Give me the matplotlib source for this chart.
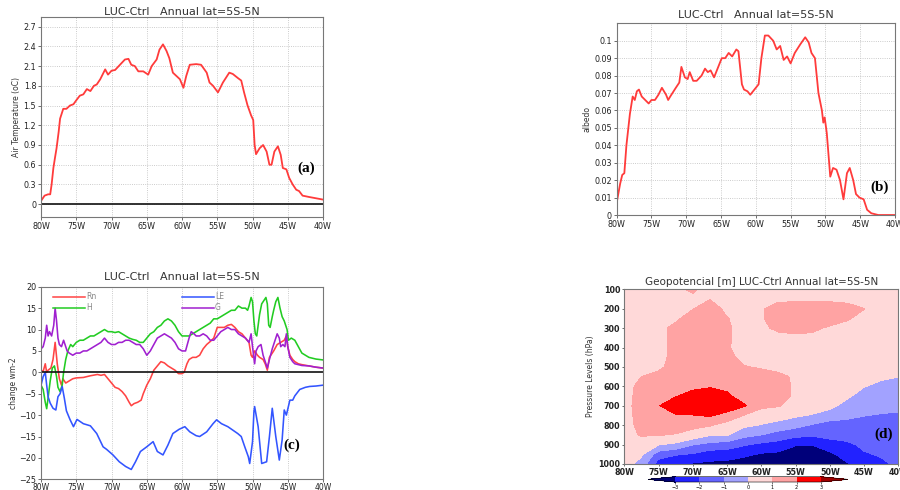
import numpy as np
import matplotlib.pyplot as plt
from matplotlib.colors import ListedColormap

# (a) air temperature change, (lon W, degC)
air_pts = [(80, 0.05), (79.5, 0.13), (79, 0.15), (78.7, 0.15), (78.5, 0.3), (78.25, 0.55),
           (78, 0.72), (77.8, 0.85), (77.5, 1.1), (77.3, 1.3), (76.85, 1.45), (76.4, 1.45),
           (75.9, 1.5), (75.4, 1.52), (75, 1.58), (74.5, 1.65), (74, 1.67), (73.5, 1.75),
           (73, 1.72), (72.5, 1.8), (72.1, 1.82), (71.6, 1.9), (70.9, 2.05), (70.5, 1.97),
           (70, 2.03), (69.5, 2.04), (68.8, 2.12), (68.1, 2.2), (67.6, 2.21), (67.2, 2.12),
           (66.7, 2.1), (66.2, 2.02), (65.5, 2.02), (64.8, 1.97), (64.3, 2.1), (63.6, 2.2),
           (63.2, 2.35), (62.7, 2.43), (62.2, 2.33), (61.8, 2.22), (61.3, 2.0), (60.8, 1.95),
           (60.3, 1.9), (59.8, 1.77), (59.4, 1.95), (58.9, 2.12), (58, 2.13), (57.3, 2.12),
           (56.5, 2.0), (56.1, 1.85), (55.6, 1.8), (54.9, 1.7), (54.2, 1.85), (53.3, 2.0),
           (52.8, 1.98), (52.1, 1.92), (51.6, 1.88), (51.2, 1.7), (50.7, 1.5), (50.2, 1.35),
           (49.9, 1.28), (49.7, 0.9), (49.5, 0.76), (49, 0.85), (48.5, 0.9), (48, 0.8),
           (47.6, 0.6), (47.3, 0.6), (46.9, 0.8), (46.4, 0.88), (46, 0.75), (45.7, 0.55),
           (45.2, 0.53), (44.8, 0.4), (44.3, 0.3), (43.8, 0.22), (43.4, 0.2), (42.9, 0.13),
           (42, 0.11), (41, 0.09), (40, 0.07)]

# (b) albedo change
alb_pts = [(80, 0.007), (79.5, 0.018), (79.2, 0.023), (78.9, 0.024), (78.6, 0.04), (78.1, 0.058),
           (77.7, 0.068), (77.4, 0.066), (77.1, 0.071), (76.8, 0.072), (76.4, 0.068), (75.9, 0.066),
           (75.4, 0.064), (75, 0.066), (74.5, 0.066), (74, 0.069), (73.5, 0.073), (72.9, 0.069),
           (72.6, 0.066), (72.3, 0.068), (71.5, 0.073), (71, 0.076), (70.7, 0.085), (70.2, 0.079),
           (69.8, 0.078), (69.5, 0.082), (69, 0.077), (68.5, 0.077), (67.8, 0.08), (67.3, 0.084),
           (66.9, 0.082), (66.5, 0.083), (66, 0.079), (65.4, 0.085), (64.9, 0.09), (64.4, 0.09),
           (63.9, 0.093), (63.4, 0.091), (62.8, 0.095), (62.5, 0.094), (62, 0.075), (61.7, 0.072),
           (61.2, 0.071), (60.8, 0.069), (60.4, 0.071), (60, 0.073), (59.6, 0.075), (59.2, 0.09),
           (58.7, 0.103), (58.2, 0.103), (57.5, 0.1), (57, 0.095), (56.5, 0.097), (56, 0.089),
           (55.5, 0.091), (55, 0.087), (54.4, 0.093), (53.6, 0.098), (52.9, 0.102), (52.4, 0.099),
           (52, 0.093), (51.5, 0.09), (51, 0.07), (50.5, 0.06), (50.3, 0.053), (50.1, 0.056),
           (49.8, 0.047), (49.3, 0.022), (48.9, 0.027), (48.4, 0.026), (47.9, 0.02), (47.4, 0.009),
           (46.9, 0.024), (46.5, 0.027), (46, 0.02), (45.6, 0.012), (45.1, 0.01), (44.5, 0.009),
           (44, 0.003), (43.4, 0.001), (42.4, 0.0), (40, 0.0)]

# (c) energy balance terms, W m-2
rn_pts = [(80, 0.5), (79.7, 0.2), (79.4, 2.0), (79.2, 0.0), (79.0, 0.5), (78.6, 1.0), (78.3, 3.0),
          (78.0, 7.0), (77.7, 2.0), (77.4, -1.5), (77.1, -3.0), (76.9, -1.5), (76.5, -2.5),
          (76.0, -2.0), (75.5, -1.5), (75.0, -1.3), (74.0, -1.2), (73.0, -0.8), (72.0, -0.5),
          (71.5, -0.7), (71.0, -0.5), (70.5, -1.5), (70.0, -2.5), (69.5, -3.5), (69.0, -3.8),
          (68.5, -4.5), (68.0, -5.5), (67.5, -7.0), (67.2, -7.8), (66.8, -7.3), (66.3, -7.0),
          (65.8, -6.5), (65.5, -5.0), (65.0, -3.0), (64.5, -1.5), (64.0, 0.5), (63.5, 1.5),
          (63.0, 2.5), (62.5, 2.2), (62.0, 1.5), (61.5, 1.0), (61.0, 0.5), (60.5, -0.3),
          (60.0, -0.3), (59.7, 0.0), (59.3, 2.0), (59.0, 3.0), (58.5, 3.5), (58.0, 3.5),
          (57.5, 4.0), (57.0, 5.5), (56.5, 6.5), (56.0, 7.2), (55.5, 8.0), (55.0, 10.5),
          (54.5, 10.5), (54.0, 10.5), (53.5, 11.0), (53.0, 11.2), (52.5, 10.5), (52.0, 9.5),
          (51.5, 9.0), (51.0, 8.0), (50.5, 7.0), (50.2, 4.0), (50.0, 3.5), (49.7, 5.0),
          (49.5, 4.5), (49.3, 4.0), (49.0, 3.5), (48.5, 3.0), (48.2, 2.0), (47.9, 0.5),
          (47.6, 3.5), (47.0, 5.0), (46.5, 6.5), (46.0, 7.0), (45.5, 7.5), (45.2, 8.5),
          (45.0, 6.0), (44.7, 4.0), (44.3, 3.0), (44.0, 2.5), (43.5, 2.0), (43.0, 1.8),
          (42.0, 1.5), (41.0, 1.2), (40.0, 1.0)]

h_pts = [(80, -3), (79.7, -4), (79.4, -7), (79.2, -8.5), (79.0, -6), (78.7, -2), (78.4, 1),
         (78.1, 1.5), (77.8, -1), (77.6, -3.5), (77.3, -4.5), (77.0, -3), (76.8, 0), (76.5, 3),
         (76.2, 5), (75.8, 6.5), (75.5, 6), (75.0, 7), (74.5, 7.5), (74.0, 7.5), (73.5, 8),
         (73.0, 8.5), (72.5, 8.5), (72.0, 9), (71.5, 9.5), (71.0, 10), (70.5, 9.5), (70.0, 9.5),
         (69.5, 9.3), (69.0, 9.5), (68.5, 9), (68.0, 8.5), (67.5, 8), (67.0, 7.7), (66.5, 7.5),
         (66.0, 7), (65.5, 7), (65.0, 8), (64.5, 9), (64.0, 9.5), (63.5, 10.5), (63.0, 11),
         (62.5, 12), (62.0, 12.5), (61.5, 12), (61.0, 11), (60.5, 9.5), (60.0, 8.5), (59.5, 8.5),
         (59.0, 8.5), (58.5, 9), (58.0, 9.5), (57.5, 10), (57.0, 10.5), (56.5, 11), (56.0, 11.5),
         (55.5, 12.5), (55.0, 12.5), (54.5, 13), (54.0, 13.5), (53.5, 14), (53.0, 14.5),
         (52.5, 14.5), (52.0, 15.5), (51.5, 15), (51.0, 15), (50.7, 14.5), (50.5, 15.5),
         (50.2, 17.5), (50.0, 16.5), (49.8, 12), (49.6, 9), (49.4, 8.5), (49.2, 11), (49.0, 13.5),
         (48.7, 16), (48.3, 17), (48.1, 17.5), (47.9, 16), (47.7, 11), (47.5, 10.5), (47.2, 13),
         (47.0, 14.5), (46.7, 16.5), (46.4, 17.5), (46.1, 15), (45.8, 13), (45.5, 12), (45.3, 11),
         (45.1, 10), (44.9, 7.5), (44.5, 8), (44.0, 7.5), (43.5, 6), (43.0, 4.5), (42.5, 4),
         (42.0, 3.5), (41.0, 3.1), (40.0, 2.9)]

le_pts = [(80, -3), (79.7, -1), (79.4, 0), (79.2, -3), (79.0, -5.7), (78.7, -7.2), (78.3, -8.4),
          (77.9, -8.8), (77.6, -5.7), (77.3, -5), (77.0, -3.3), (76.7, -6), (76.4, -9),
          (75.9, -11), (75.4, -12.7), (74.9, -11), (74.0, -12), (73.0, -12.5), (72.1, -14.3),
          (71.2, -17.4), (70.7, -18), (69.8, -19.3), (68.9, -20.9), (68.0, -22), (67.2, -22.7),
          (66.6, -20.9), (65.9, -18.5), (65.0, -17.4), (64.1, -16.2), (63.5, -18.5), (62.7, -19.3),
          (62.0, -17), (61.3, -14.3), (60.4, -13.3), (59.6, -12.7), (58.9, -13.9), (58.0, -14.8),
          (57.5, -15), (56.5, -13.9), (55.6, -12), (55.1, -11.1), (54.4, -12), (53.5, -12.7),
          (52.8, -13.5), (52.1, -14.3), (51.6, -15), (51.1, -17.4), (50.6, -19.7), (50.4, -21.3),
          (50.0, -16.2), (49.8, -9.2), (49.7, -8), (49.2, -12.7), (48.7, -21.3), (48.0, -20.9),
          (47.6, -15), (47.2, -8.4), (46.7, -15), (46.2, -20.5), (45.8, -15.8), (45.5, -8.8),
          (45.2, -10), (44.7, -6.5), (44.3, -6.5), (44.0, -5.5), (43.3, -4), (42.5, -3.5),
          (41.9, -3.3), (41.0, -3.2), (40.0, -3.0)]

g_pts = [(80, 5.5), (79.7, 6), (79.4, 8), (79.2, 11), (79.0, 8.5), (78.8, 9.5), (78.5, 8.5),
         (78.2, 11), (78.0, 15), (77.8, 12), (77.6, 8), (77.4, 6.5), (77.1, 6), (76.8, 7.5),
         (76.6, 6.5), (76.3, 5), (76.0, 4.5), (75.5, 4), (75.0, 4.5), (74.5, 4.5), (74.0, 5),
         (73.5, 5), (73.0, 5.5), (72.5, 6), (72.0, 6.5), (71.5, 7), (71.0, 8), (70.5, 7),
         (70.0, 6.5), (69.5, 6.5), (69.0, 7), (68.5, 7), (68.0, 7.5), (67.5, 7.5), (67.0, 7),
         (66.5, 6.5), (66.0, 6.5), (65.5, 5.5), (65.0, 4), (64.5, 5), (64.0, 6.5), (63.5, 8),
         (63.0, 8.5), (62.5, 9), (62.0, 8.5), (61.5, 8), (61.0, 7), (60.5, 5.5), (60.0, 5),
         (59.5, 5), (59.0, 8), (58.7, 9.5), (58.3, 9), (58.0, 8.5), (57.5, 8.5), (57.0, 9),
         (56.5, 8.5), (56.0, 7.5), (55.5, 7.5), (55.0, 8.5), (54.5, 9.5), (54.0, 10), (53.5, 10.5),
         (53.0, 10), (52.5, 10), (52.0, 9), (51.5, 8.5), (51.0, 8), (50.5, 7), (50.2, 9),
         (50.0, 6), (49.7, 2), (49.5, 5), (49.2, 6), (48.8, 6.5), (48.5, 4), (48.2, 2.5),
         (47.9, 1), (47.6, 3), (47.2, 5.5), (46.8, 7.5), (46.5, 9), (46.2, 8), (46.0, 6),
         (45.7, 6.5), (45.4, 6), (45.2, 9), (45.0, 6), (44.7, 3.5), (44.3, 2.5), (44.0, 2),
         (43.5, 1.8), (43.0, 1.6), (42.0, 1.5), (41.0, 1.2), (40.0, 1.0)]

# (d) geopotential height change [m], rows = pressure levels, cols = longitude (W)
geo_lon = [80, 77.5, 75, 72.5, 70, 67.5, 65, 62.5, 60, 57.5, 55, 52.5, 50, 47.5, 45, 42.5, 40]
geo_lev = [100, 150, 200, 250, 300, 350, 400, 450, 500, 550, 600, 650, 700, 750, 800, 850, 900, 950, 1000]
geo_z = [
    [0.5, 0.5, 0.5, 0.8, 1.15, 0.5, 0.5, 0.5, 0.5, 0.5, 0.5, 0.5, 0.5, 0.5, 0.5, 0.5, 0.5],
    [0.5, 0.5, 0.5, 0.5, 0.8, 0.95, 0.6, 0.5, 0.5, 0.8, 0.8, 0.8, 0.8, 0.7, 0.5, 0.5, 0.5],
    [0.5, 0.5, 0.5, 0.6, 0.95, 1.6, 0.7, 0.55, 0.9, 1.4, 1.5, 1.5, 1.5, 1.4, 1.02, 0.5, 0.5],
    [0.5, 0.5, 0.6, 0.8, 1.5, 1.6, 1.05, 0.6, 0.9, 1.5, 1.6, 1.6, 1.5, 1.1, 0.7, 0.5, 0.5],
    [0.5, 0.5, 0.7, 1.3, 1.6, 1.6, 1.15, 0.6, 0.8, 1.2, 1.3, 1.2, 0.85, 0.7, 0.6, 0.5, 0.5],
    [0.5, 0.5, 0.7, 1.3, 1.6, 1.6, 1.15, 0.6, 0.6, 0.7, 0.8, 0.75, 0.6, 0.55, 0.5, 0.5, 0.5],
    [0.5, 0.5, 0.7, 1.3, 1.6, 1.6, 1.1, 0.6, 0.55, 0.5, 0.5, 0.5, 0.5, 0.5, 0.5, 0.5, 0.5],
    [0.5, 0.5, 0.7, 1.3, 1.6, 1.6, 1.3, 0.7, 0.6, 0.5, 0.5, 0.5, 0.5, 0.5, 0.5, 0.5, 0.5],
    [0.5, 0.6, 0.8, 1.4, 1.6, 1.6, 1.6, 1.05, 0.9, 0.6, 0.55, 0.5, 0.5, 0.5, 0.5, 0.5, 0.3],
    [0.5, 1.0, 1.3, 1.5, 1.7, 1.7, 1.6, 1.5, 1.4, 1.3, 0.8, 0.55, 0.5, 0.5, 0.4, 0.2, 0.02],
    [0.6, 1.3, 1.5, 1.7, 1.8, 1.9, 1.8, 1.55, 1.5, 1.4, 0.85, 0.55, 0.5, 0.5, 0.05, -0.3, -0.4],
    [0.6, 1.4, 1.7, 1.95, 2.3, 2.6, 2.15, 1.6, 1.5, 1.4, 0.85, 0.55, 0.55, 0.2, -0.5, -0.6, -0.6],
    [0.6, 1.5, 1.95, 2.6, 2.8, 2.9, 2.5, 2.1, 1.2, 1.05, 0.7, 0.6, 0.3, -0.4, -0.7, -0.8, -0.8],
    [0.6, 1.4, 1.6, 1.9, 1.95, 2.1, 1.7, 0.95, 0.5, 0.5, 0.15, -0.1, -0.5, -0.8, -0.98, -1.05, -1.1],
    [0.6, 1.3, 1.4, 1.4, 1.2, 1.1, 0.6, 0.2, -0.05, -0.4, -0.7, -1.1, -1.4, -1.3, -1.3, -1.3, -1.3],
    [0.6, 1.1, 1.05, 0.95, 0.7, 0.1, 0.1, -0.7, -1.0, -1.4, -1.7, -1.85, -1.7, -1.6, -1.5, -1.5, -1.4],
    [0.5, 0.4, 0.05, -0.2, -0.95, -1.3, -1.5, -1.9, -2.2, -2.4, -2.9, -2.95, -2.4, -2.2, -1.8, -1.7, -1.5],
    [0.4, 0.15, -1.5, -1.9, -2.1, -2.5, -2.5, -2.8, -3.1, -3.2, -3.7, -3.8, -3.2, -2.6, -2.1, -1.9, -1.6],
    [0.45, -0.4, -2.5, -2.9, -3.1, -3.2, -3.3, -3.5, -3.6, -3.7, -3.9, -4.0, -3.8, -3.1, -2.5, -2.2, -1.8],
]
geo_levels = [-3, -2, -1, 0, 1, 2, 3]

lon_ticks = [80, 75, 70, 65, 60, 55, 50, 45, 40]
title = 'LUC-Ctrl   Annual lat=5S-5N'


def style(ax, bold=False):
    for s in ax.spines.values():
        s.set_color('#777777')
        s.set_linewidth(0.8)
    ax.tick_params(labelsize=5.8, length=2, width=0.6, color='#555555',
                   labelcolor='#222222', pad=1.5)
    ax.set_xlim(80, 40)
    ax.set_xticks(lon_ticks)
    ax.set_xticklabels([f'{t}W' for t in lon_ticks])
    if bold:
        for lab in ax.get_xticklabels() + ax.get_yticklabels():
            lab.set_fontweight('bold')


def panel_label(ax, txt, x, y):
    ax.text(x, y, txt, transform=ax.transAxes, ha='center', va='center',
            fontsize=11, fontweight='bold', family='Liberation Serif')


fig = plt.figure(figsize=(9, 4.9), dpi=100)
ax_a = fig.add_axes([0.0456, 0.5578, 0.3133, 0.408])
ax_b = fig.add_axes([0.6852, 0.5612, 0.3092, 0.3912])
ax_c = fig.add_axes([0.0456, 0.0218, 0.3133, 0.393])
ax_d = fig.add_axes([0.6937, 0.0531, 0.3044, 0.3565])
cax = fig.add_axes([0.72, 0.0163, 0.2222, 0.0108])

# (a)
lon, val = zip(*air_pts)
ax_a.plot(lon, val, color='#ff3b3b', lw=1.3)
ax_a.axhline(0, color='#222222', lw=1.3)
style(ax_a)
ax_a.set_ylim(-0.19, 2.85)
ax_a.set_yticks(np.arange(0, 2.71, 0.3))
ax_a.set_yticklabels(['0', '0.3', '0.6', '0.9', '1.2', '1.5', '1.8', '2.1', '2.4', '2.7'])
ax_a.grid(True, linestyle=':', color='#bbbbbb', lw=0.6)
ax_a.set_ylabel('Air Temperature (oC)', fontsize=5.5, color='#333333', labelpad=2)
ax_a.set_title(title, fontsize=8, color='#333333', pad=1.5)
panel_label(ax_a, '(a)', 0.94, 0.243)

# (b)
lon, val = zip(*alb_pts)
ax_b.plot(lon, val, color='#ff3b3b', lw=1.3)
style(ax_b)
ax_b.set_ylim(0, 0.11)
ax_b.set_yticks(np.arange(0, 0.101, 0.01))
ax_b.set_yticklabels(['0'] + [f'{v:.2f}'.rstrip('0') for v in np.arange(0.01, 0.101, 0.01)])
ax_b.grid(True, linestyle=':', color='#bbbbbb', lw=0.6)
ax_b.set_ylabel('albedo', fontsize=5.5, color='#333333', labelpad=2)
ax_b.set_title(title, fontsize=8, color='#333333', pad=3.5)
panel_label(ax_b, '(b)', 0.946, 0.146)

# (c)
series = [('Rn', rn_pts, '#ff4444'), ('H', h_pts, '#22cc22'),
          ('LE', le_pts, '#3355ff'), ('G', g_pts, '#a020d0')]
for name, pts, col in series:
    lon, val = zip(*pts)
    ax_c.plot(lon, val, color=col, lw=1.15)
ax_c.axhline(0, color='#111111', lw=1.2)
style(ax_c)
ax_c.tick_params(axis='x', pad=0.5, labelsize=5.5)
ax_c.set_ylim(-25, 20)
ax_c.set_yticks(np.arange(-25, 21, 5))
ax_c.grid(True, axis='x', linestyle=':', color='#bbbbbb', lw=0.6)
ax_c.set_ylabel('change wm-2', fontsize=5.5, color='#333333', labelpad=1)
ax_c.set_title(title, fontsize=8, color='#333333', pad=4.5)
key_pos = [(0.043, 0.948), (0.043, 0.891), (0.499, 0.948), (0.499, 0.891)]
for (name, pts, col), (kx, ky) in zip(series, key_pos):
    ax_c.plot([kx, kx + 0.113], [ky, ky], color=col, lw=1.1, transform=ax_c.transAxes)
    ax_c.text(kx + 0.118, ky, name, transform=ax_c.transAxes, fontsize=5.5,
              color='#888888', va='center', ha='left')
panel_label(ax_c, '(c)', 0.89, 0.178)

# (d)
cmap = ListedColormap(['#2222ff', '#6464ff', '#a2a2ff', '#ffd9d9', '#ffa3a3', '#ff0000'])
cmap.set_under('#00007a')
cmap.set_over('#a00000')
cf = ax_d.contourf(geo_lon, geo_lev, np.array(geo_z), levels=geo_levels,
                   cmap=cmap, extend='both')
style(ax_d, bold=True)
ax_d.set_ylim(1000, 100)
ax_d.set_yticks(range(100, 1001, 100))
ax_d.tick_params(length=1.5)
ax_d.set_ylabel('Pressure Levels (hPa)', fontsize=5.5, color='#333333', labelpad=2)
ax_d.set_title('Geopotencial [m] LUC-Ctrl Annual lat=5S-5N', fontsize=7.5,
               color='#333333', pad=3)
panel_label(ax_d, '(d)', 0.948, 0.172)

cb = fig.colorbar(cf, cax=cax, orientation='horizontal', extend='both',
                  extendfrac=0.185, ticks=geo_levels)
cb.outline.set_linewidth(0.4)
cb.ax.tick_params(labelsize=3.5, length=1.5, width=0.4, pad=0.5)
cb.ax.set_xticklabels(['\u22123', '\u22122', '\u22121', '0', '1', '2', '3'])

fig.savefig('out.png', dpi=100)
